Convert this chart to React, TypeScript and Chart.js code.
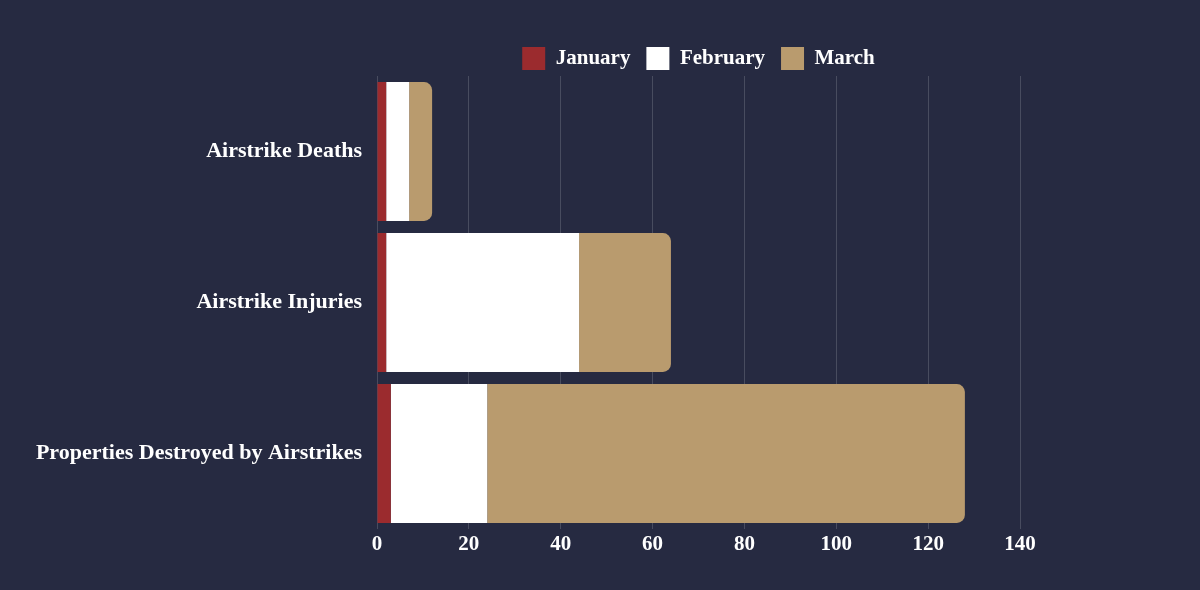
import React, { useEffect, useRef } from "react";
import { Chart, registerables } from "chart.js";

Chart.register(...registerables);

const categories = ["Airstrike Deaths", "Airstrike Injuries", "Properties Destroyed by Airstrikes"];
const january = [2, 2, 3];
const february = [5, 42, 21];
const march = [5, 20, 104];
const seriesNames = ["January", "February", "March"];
const xTicks = [0, 20, 40, 60, 80, 100, 120, 140];

const BG = "#262a41";
const FONT = "'Liberation Serif', 'DejaVu Serif', serif";

export default function App() {
  const ref = useRef<HTMLCanvasElement | null>(null);

  useEffect(() => {
    document.body.style.margin = "0";
    document.body.style.background = BG;
    const legendPlugin = {
      id: "legendCenter",
      afterLayout(chart: any) {
        const lg = chart.legend;
        if (lg) {
          lg.left = chart.chartArea.left;
          lg.right = chart.chartArea.right;
          lg.width = lg.right - lg.left;
        }
      },
    };
    const chart = new Chart(ref.current!, {
      type: "bar",
      data: {
        labels: categories,
        datasets: [
          { label: seriesNames[0], data: january, backgroundColor: "#9b2b2e", borderWidth: 0 },
          { label: seriesNames[1], data: february, backgroundColor: "#ffffff", borderWidth: 0 },
          {
            label: seriesNames[2],
            data: march,
            backgroundColor: "#b99b6e",
            borderWidth: 0,
            borderRadius: 8,
            borderSkipped: "start",
          },
        ],
      },
      options: {
        indexAxis: "y",
        responsive: false,
        animation: false,
        maintainAspectRatio: false,
        layout: { padding: { top: 31, right: 180, bottom: 0, left: 0 } },
        datasets: { bar: { barPercentage: 0.92, categoryPercentage: 1 } },
        plugins: {
          legend: {
            position: "top",
            maxHeight: 45,
            labels: {
              color: "#ffffff",
              boxWidth: 23,
              boxHeight: 23,
              padding: 16,
              font: { family: FONT, size: 21, weight: "bold" },
            },
          },
          tooltip: { enabled: false },
        },
        scales: {
          x: {
            stacked: true,
            min: 0,
            max: 140,
            afterBuildTicks(scale: any) {
              scale.ticks = xTicks.map((v) => ({ value: v }));
            },
            afterFit(scale: any) {
              scale.height = 61;
            },
            grid: { color: "rgba(255,255,255,0.16)", drawTicks: false },
            border: { display: false },
            ticks: {
              color: "#ffffff",
              padding: 3,
              font: { family: FONT, size: 21, weight: "bold" },
            },
          },
          y: {
            stacked: true,
            afterFit(scale: any) {
              scale.width = 377;
            },
            grid: { display: false, drawTicks: false },
            border: { display: false },
            ticks: {
              color: "#ffffff",
              padding: 15,
              font: { family: FONT, size: 22, weight: "bold" },
            },
          },
        },
      },
      plugins: [legendPlugin],
    } as any);
    return () => chart.destroy();
  }, []);

  return (
    <div style={{ width: 1200, height: 590, background: BG }}>
      <canvas ref={ref} width={1200} height={590} style={{ display: "block" }} />
    </div>
  );
}
